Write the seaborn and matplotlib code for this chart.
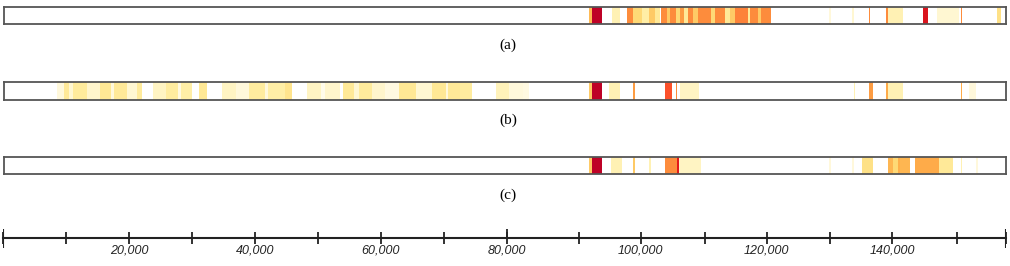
import numpy as np
import seaborn as sns
import matplotlib
matplotlib.use("Agg")
import matplotlib.pyplot as plt
from matplotlib.colors import LinearSegmentedColormap

# genome length (kb) and bin size used for the heat strips
genome_kb = 159.2
bin_kb = 0.2

# strip (a): start kb, end kb, intensity
a_start = [93.1, 93.6, 96.8, 99.0, 100.1, 101.4, 102.6, 103.4, 104.6, 105.5, 105.8, 106.8, 107.4,
           108.1, 108.7, 109.6, 110.3, 112.5, 113.1, 114.7, 115.4, 116.3, 118.2, 118.7, 119.8,
           120.3, 131.2, 134.8, 137.5, 140.3, 140.5, 146.0, 148.3, 152.0, 157.9]
a_end = [93.6, 95.0, 97.9, 100.1, 101.4, 102.6, 103.4, 104.2, 105.5, 105.8, 106.8, 107.4, 108.1,
         108.7, 109.6, 110.3, 112.5, 113.1, 114.7, 115.4, 116.3, 118.2, 118.7, 119.8, 120.3,
         121.9, 131.4, 135.0, 137.7, 140.5, 142.9, 146.8, 151.9, 152.2, 158.6]
a_value = [0.35, 0.87, 0.1, 0.5, 0.25, 0.12, 0.3, 0.15, 0.5, 0.3, 0.5, 0.25, 0.45,
           0.15, 0.5, 0.3, 0.5, 0.25, 0.5, 0.15, 0.3, 0.52, 0.15, 0.5, 0.3,
           0.5, 0.05, 0.06, 0.5, 0.5, 0.1, 0.78, 0.06, 0.5, 0.2]

# strip (b)
b_start = [8.4, 9.7, 10.6, 11.2, 13.3, 15.3, 17.0, 17.5, 19.7, 21.3, 23.7, 25.9, 27.6, 28.2,
           31.1, 34.8, 36.9, 39.1, 41.5, 42.1, 44.7, 48.3, 50.5, 51.0, 53.9, 55.8, 56.4, 58.5,
           60.8, 62.9, 65.6, 68.0, 70.2, 70.7, 72.4, 78.3, 80.2, 82.5, 93.1, 93.6, 96.3, 100.0,
           105.0, 106.8, 107.4, 135.1, 137.6, 140.3, 140.5, 152.0, 153.5]
b_end = [9.7, 10.6, 11.2, 13.3, 15.3, 17.0, 17.5, 19.7, 21.3, 22.1, 25.9, 27.6, 28.2, 29.9,
         32.4, 36.9, 39.1, 41.5, 42.1, 44.7, 45.9, 50.5, 51.0, 53.4, 55.8, 56.4, 58.5, 60.8,
         62.9, 65.6, 68.0, 70.2, 70.7, 72.4, 74.5, 80.2, 82.5, 83.6, 93.6, 95.0, 97.9, 100.2,
         106.3, 107.0, 110.6, 135.3, 138.1, 140.5, 142.9, 152.2, 154.6]
b_value = [0.05, 0.15, 0.06, 0.14, 0.07, 0.16, 0.05, 0.15, 0.06, 0.14, 0.08, 0.13, 0.04, 0.12,
           0.16, 0.08, 0.05, 0.13, 0.05, 0.12, 0.18, 0.08, 0.03, 0.07, 0.15, 0.06, 0.14, 0.07,
           0.04, 0.16, 0.06, 0.16, 0.05, 0.15, 0.13, 0.09, 0.05, 0.04, 0.3, 0.87, 0.1, 0.45,
           0.62, 0.5, 0.08, 0.1, 0.45, 0.4, 0.1, 0.4, 0.05]

# strip (c)
c_start = [93.1, 93.6, 96.6, 100.0, 102.6, 105.0, 107.0, 107.2, 131.2, 134.8, 136.5, 140.5,
           141.3, 142.0, 142.6, 144.8, 148.7, 152.0, 154.6]
c_end = [93.6, 95.0, 98.2, 100.2, 102.8, 107.0, 107.2, 110.9, 131.4, 135.0, 138.1, 141.3,
         142.0, 142.6, 144.0, 148.7, 150.8, 152.2, 154.8]
c_value = [0.3, 0.87, 0.1, 0.3, 0.1, 0.5, 0.75, 0.08, 0.05, 0.05, 0.2, 0.36,
           0.25, 0.38, 0.36, 0.4, 0.15, 0.1, 0.05]

strip_labels = ["(a)", "(b)", "(c)"]

# bottom ruler
tick_kb = [0, 10, 20, 30, 40, 50, 60, 70, 80, 91.4, 101.2, 111.4, 121.2, 131.3, 141.1, 151.4, 159.2]
tick_text = ["", "", "20,000", "", "40,000", "", "60,000", "", "80,000", "", "100,000", "",
             "120,000", "", "140,000", "", ""]
tall_ticks = [0, 159.2]
half_tall_ticks = [80]

heat = LinearSegmentedColormap.from_list(
    "white_ylorrd", ["#ffffff", "#ffeda0", "#fed976", "#feb24c", "#fd8d3c",
                     "#fc4e2a", "#e31a1c", "#bd0026", "#800026"])


def to_bins(starts, ends, values):
    n = int(round(genome_kb / bin_kb))
    arr = np.zeros(n)
    for s, e, v in zip(starts, ends, values):
        i0 = int(s / bin_kb)
        i1 = max(int(e / bin_kb), i0 + 1)
        arr[i0:i1] = v
    return arr[None, :]


W, H = 1010, 266
fig = plt.figure(figsize=(W / 100, H / 100), dpi=100)

strips = [(a_start, a_end, a_value, 7, 24, 45),
          (b_start, b_end, b_value, 82, 100, 120),
          (c_start, c_end, c_value, 157, 174, 195)]

for (st, en, va, top, bot, lab_y), lab in zip(strips, strip_labels):
    ax = fig.add_axes([4 / W, 1 - bot / H, 1002 / W, (bot - top) / H])
    data = to_bins(st, en, va)
    sns.heatmap(data, ax=ax, cmap=heat, vmin=0, vmax=1,
                cbar=False, xticklabels=False, yticklabels=False)
    for sp in ax.spines.values():
        sp.set_visible(True)
        sp.set_color("#555555")
        sp.set_linewidth(1.3)
    fig.text(508 / W, 1 - lab_y / H, lab, ha="center", va="center",
             fontsize=11, family="Liberation Serif")

# ruler axis
ax = fig.add_axes([3 / W, 1 - 258 / H, 1003 / W, 40 / H])
ax.set_xlim(0, genome_kb)
ax.set_ylim(-20, 20)
for side in ["top", "left", "right"]:
    ax.spines[side].set_visible(False)
ax.spines["bottom"].set_position(("data", 0))
ax.spines["bottom"].set_color("#222222")
ax.spines["bottom"].set_linewidth(1.5)
ax.set_yticks([])
ax.set_xticks(tick_kb)
ax.set_xticklabels(tick_text, fontsize=9, style="italic", family="Liberation Sans", color="#222222")
ax.tick_params(axis="x", direction="inout", length=8, width=1.3, color="#222222", pad=1)
ax.vlines(tall_ticks, -9.5, 9.5, color="#222222", lw=1.5)
ax.vlines(half_tall_ticks, 0, 9.5, color="#222222", lw=1.3)
ax.patch.set_alpha(0)

fig.savefig("out.png", dpi=100)
